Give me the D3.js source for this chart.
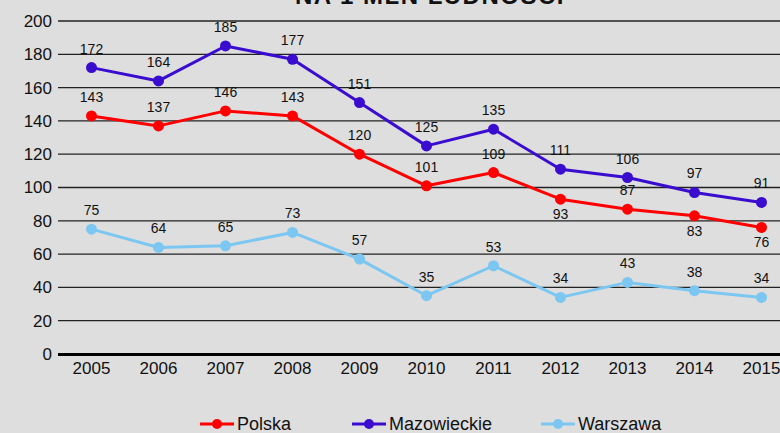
<!DOCTYPE html>
<html><head><meta charset="utf-8">
<script src="https://cdn.jsdelivr.net/npm/d3@7"></script>
<style>html,body{margin:0;padding:0;background:#dedede;}svg{display:block;font-family:Arial,"Liberation Sans",sans-serif;}</style>
</head><body>
<svg id="c" width="780" height="433"></svg>
<script>
const title = "NA 1 MLN LUDNOŚCI";
const years = ["2005","2006","2007","2008","2009","2010","2011","2012","2013","2014","2015"];
const polska = [143,137,146,143,120,101,109,93,87,83,76];
const mazowieckie = [172,164,185,177,151,125,135,111,106,97,91];
const warszawa = [75,64,65,73,57,35,53,34,43,38,34];
const yTicks = [0,20,40,60,80,100,120,140,160,180,200];
const polskaBelow = [false,false,false,false,false,false,false,true,false,true,true];

const series = [
  {name:"Polska", values:polska, color:"#ff0000", below:polskaBelow},
  {name:"Mazowieckie", values:mazowieckie, color:"#3a0ccf", below:years.map(()=>false)},
  {name:"Warszawa", values:warszawa, color:"#7cc7f2", below:years.map(()=>false)}
];

const svg = d3.select("#c");
svg.append("rect").attr("width",780).attr("height",433).attr("fill","#dedede");

const x = d3.scaleBand().domain(years).range([58,795]);
const y = d3.scaleLinear().domain([0,200]).range([354,21]);
const cx = d => x(d)+x.bandwidth()/2;

svg.append("text").attr("x",430).attr("y",4).attr("text-anchor","middle")
  .attr("font-size",24).attr("font-weight","bold").attr("letter-spacing",1.5)
  .attr("fill","#111").text(title);

// gridlines
svg.append("g").selectAll("line").data(yTicks.filter(t=>t>0)).join("line")
  .attr("x1",58).attr("x2",780).attr("y1",d=>y(d)).attr("y2",d=>y(d))
  .attr("stroke","#222").attr("stroke-width",1.3);
svg.append("line").attr("x1",58).attr("x2",780).attr("y1",y(0)+0.5).attr("y2",y(0)+0.5)
  .attr("stroke","#000").attr("stroke-width",3);

// y axis labels
const yAxis = d3.axisLeft(y).tickValues(yTicks).tickSize(0).tickPadding(6);
const ga = svg.append("g").attr("transform","translate(58,0)").call(yAxis);
ga.select(".domain").remove();
ga.selectAll("text").attr("font-size",17).attr("fill","#111").attr("font-family","Arial,'Liberation Sans',sans-serif");

// x axis labels
const xAxis = d3.axisBottom(x).tickSize(0).tickPadding(8);
const gx = svg.append("g").attr("transform",`translate(0,${y(0)})`).call(xAxis);
gx.select(".domain").remove();
gx.selectAll("text").attr("font-size",17).attr("fill","#111").attr("font-family","Arial,'Liberation Sans',sans-serif");

const line = d3.line().x((d,i)=>cx(years[i])).y(d=>y(d));
series.forEach(s=>{
  const g = svg.append("g");
  g.append("path").datum(s.values).attr("d",line).attr("fill","none")
    .attr("stroke",s.color).attr("stroke-width",3).attr("stroke-linejoin","round");
  g.selectAll("circle").data(s.values).join("circle")
    .attr("cx",(d,i)=>cx(years[i])).attr("cy",d=>y(d)).attr("r",5.5).attr("fill",s.color);
  g.selectAll("text").data(s.values).join("text")
    .attr("x",(d,i)=>cx(years[i]))
    .attr("y",(d,i)=>s.below[i] ? y(d)+20 : y(d)-14)
    .attr("text-anchor","middle").attr("font-size",14).attr("fill","#111").text(d=>d);
});

// legend
const legX = [200,352,541];
series.forEach((s,i)=>{
  const g = svg.append("g").attr("transform",`translate(${legX[i]},424)`);
  g.append("line").attr("x1",0).attr("x2",34).attr("stroke",s.color).attr("stroke-width",3);
  g.append("circle").attr("cx",17).attr("r",5).attr("fill",s.color);
  g.append("text").attr("x",37).attr("y",6).attr("font-size",18).attr("fill","#111").text(s.name);
});
</script>
</body></html>
